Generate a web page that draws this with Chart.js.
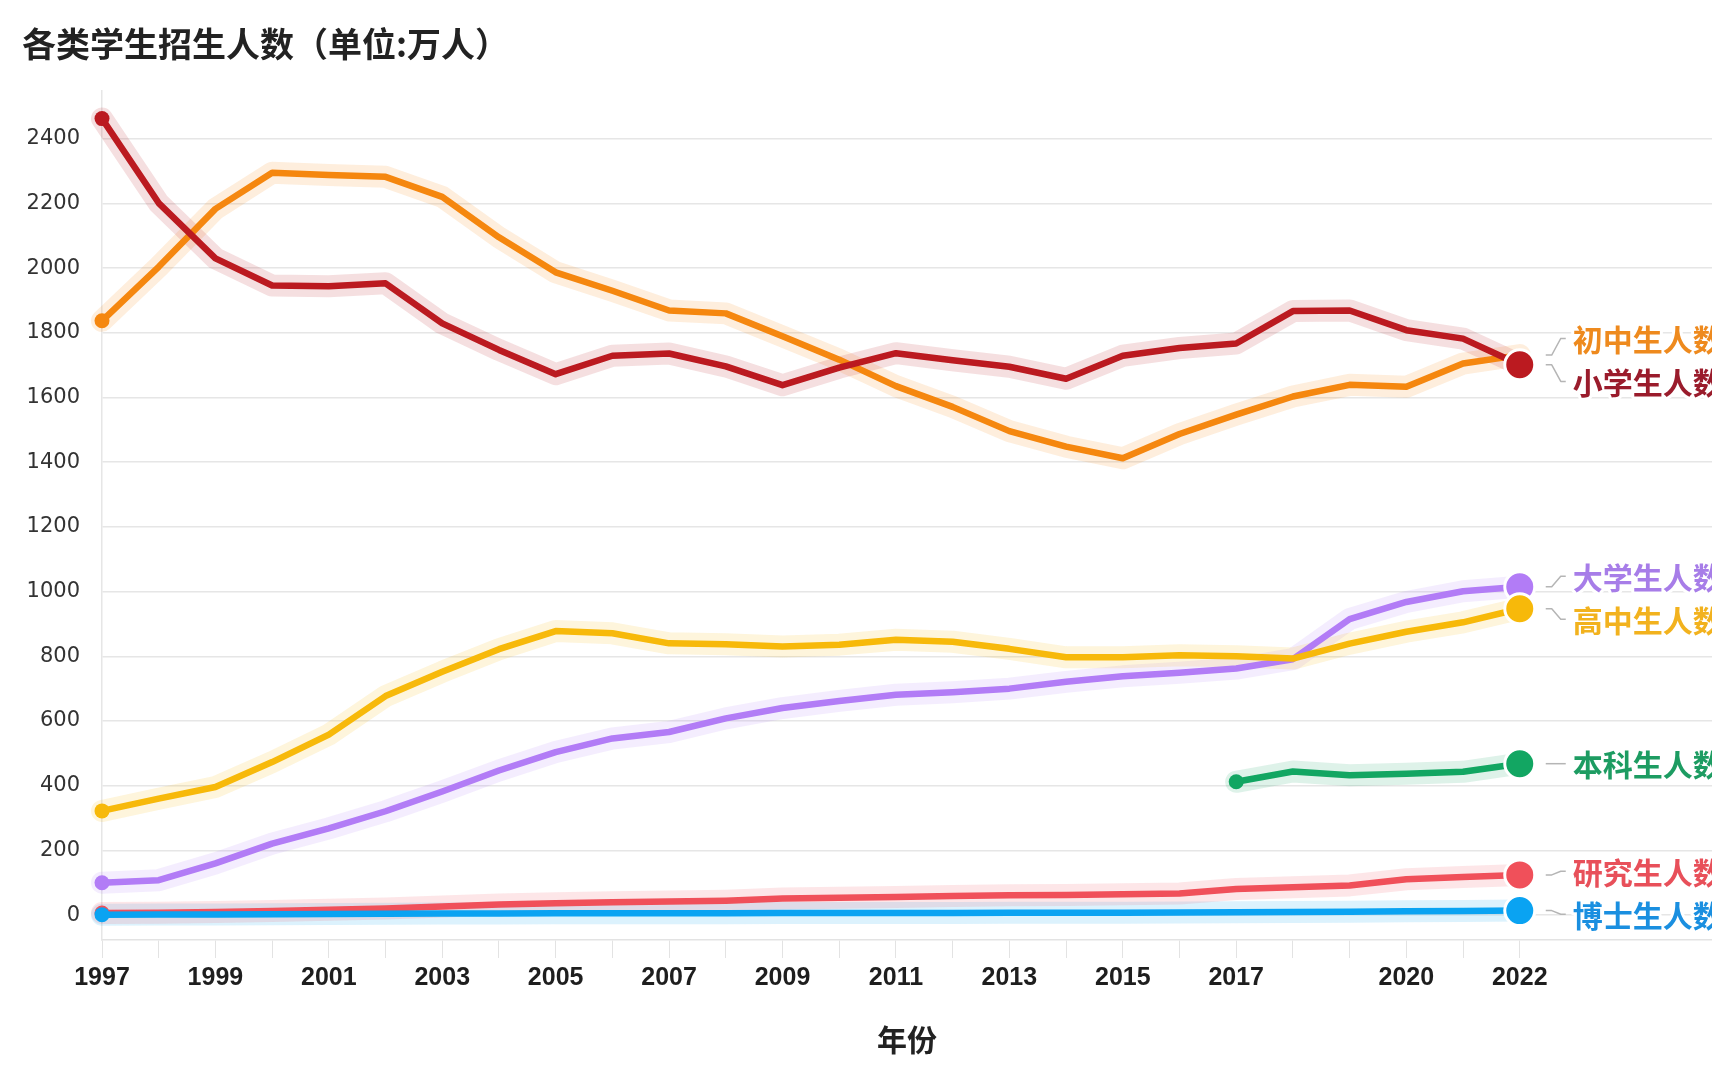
<!DOCTYPE html>
<html>
<head>
<meta charset="utf-8">
<script src="https://cdn.jsdelivr.net/npm/chart.js@4.4.1/dist/chart.umd.min.js"></script>
<style>
  html, body { margin: 0; padding: 0; background: #fff; }
  #wrap { width: 1712px; height: 1070px; position: relative; }
</style>
</head>
<body>
<div id="wrap"><canvas id="chart"></canvas></div>
<script>
// 各类学生招生人数 (单位:万人)
const years = [1997, 1998, 1999, 2000, 2001, 2002, 2003, 2004, 2005, 2006, 2007, 2008, 2009,
               2010, 2011, 2012, 2013, 2014, 2015, 2016, 2017, 2018, 2019, 2020, 2021, 2022];
const xLabelYears = [1997, 1999, 2001, 2003, 2005, 2007, 2009, 2011, 2013, 2015, 2017, 2020, 2022];
const yTicks = [0, 200, 400, 600, 800, 1000, 1200, 1400, 1600, 1800, 2000, 2200, 2400];

const primary  = [2462, 2201, 2030, 1946, 1944, 1953, 1829, 1747, 1672, 1729, 1736, 1696, 1638,
                  1692, 1737, 1715, 1695, 1658, 1729, 1753, 1767, 1867, 1869, 1808, 1782, 1701];
const junior   = [1837, 2004, 2183, 2295, 2288, 2282, 2220, 2095, 1987, 1930, 1869, 1860, 1789,
                  1717, 1635, 1571, 1496, 1448, 1412, 1487, 1547, 1603, 1639, 1633, 1705, 1731];
const senior   = [322, 360, 396, 473, 558, 677, 752, 822, 878, 871, 840, 837, 830,
                  836, 851, 845, 823, 797, 797, 803, 800, 793, 839, 876, 905, 947];
const college  = [100, 108, 160, 221, 268, 321, 382, 447, 504, 546, 566, 608, 640,
                  662, 681, 689, 700, 721, 738, 749, 762, 791, 915, 968, 1001, 1015];
const bachelor = [null, null, null, null, null, null, null, null, null, null, null, null, null,
                  null, null, null, null, null, null, null, 412, 444, 432, 437, 443, 468];
const master   = [6.4, 7.3, 9.2, 12.9, 16.5, 20.3, 26.9, 32.6, 36.5, 39.8, 41.9, 44.6, 51.1,
                  53.8, 56.0, 59.0, 61.1, 62.1, 64.5, 66.7, 80.6, 85.8, 91.7, 110.7, 117.7, 124.2];
const doctor   = [1.3, 1.5, 2.0, 2.5, 3.2, 3.8, 4.9, 5.3, 5.5, 5.6, 5.8, 6.0, 6.2,
                  6.4, 6.6, 6.8, 7.0, 7.3, 7.4, 7.7, 8.4, 9.5, 10.5, 11.6, 12.6, 13.9];

const series = [
  { name: '小学生人数', data: primary,  color: '#bb1a20', label: '#9a1c2c', endDot: true },
  { name: '初中生人数', data: junior,   color: '#f5870f', label: '#ee8a1e', endDot: false },
  { name: '高中生人数', data: senior,   color: '#f7b90a', label: '#f2b21e', endDot: true },
  { name: '大学生人数', data: college,  color: '#b27cf6', label: '#a77de8', endDot: true },
  { name: '本科生人数', data: bachelor, color: '#12a662', label: '#1d9c62', endDot: true },
  { name: '研究生人数', data: master,   color: '#f0505a', label: '#e8505a', endDot: true },
  { name: '博士生人数', data: doctor,   color: '#0aa3f2', label: '#1a8fe0', endDot: true }
];
// draw order: lower = on top
const drawOrder = [2, 3, 4, 5, 1, 7, 6];

function alpha(hex, a) {
  const n = parseInt(hex.slice(1), 16);
  return `rgba(${n >> 16},${(n >> 8) & 255},${n & 255},${a})`;
}
function toPoints(arr) {
  return arr.map((v, i) => ({ x: years[i], y: v }));
}

const datasets = [];
series.forEach((s, k) => {
  const first = s.data.findIndex(v => v !== null);
  const last = s.data.length - 1;
  datasets.push({
    label: s.name,
    data: toPoints(s.data),
    borderColor: s.color,
    backgroundColor: s.color,
    borderWidth: 6.5,
    borderJoinStyle: 'round',
    borderCapStyle: 'round',
    tension: 0,
    clip: false,
    order: drawOrder[k],
    pointRadius: ctx => ctx.dataIndex === first ? 7.5 : (ctx.dataIndex === last && s.endDot ? 15 : 0),
    pointBorderWidth: ctx => ctx.dataIndex === last ? 3 : 0,
    pointBorderColor: '#fff',
    pointBackgroundColor: s.color,
    isMain: true,
    seriesIndex: k
  });
  // soft halo behind the line
  datasets.push({
    label: s.name + ' halo',
    data: toPoints(s.data),
    borderColor: alpha(s.color, 0.14),
    borderWidth: 22,
    borderJoinStyle: 'round',
    borderCapStyle: 'round',
    tension: 0,
    clip: false,
    pointRadius: 0,
    order: 20
  });
});

const endLabels = {
  id: 'endLabels',
  afterDatasetsDraw(chart) {
    const ctx = chart.ctx;
    const items = [];
    chart.data.datasets.forEach((ds, i) => {
      if (!ds.isMain) return;
      const meta = chart.getDatasetMeta(i);
      const pt = meta.data[meta.data.length - 1];
      items.push({ s: series[ds.seriesIndex], px: pt.x, py: pt.y, ly: pt.y });
    });
    items.sort((a, b) => a.py - b.py);
    const gap = 43;
    for (let it = 0; it < 60; it++) {
      for (let i = 1; i < items.length; i++) {
        const d = gap - (items[i].ly - items[i - 1].ly);
        if (d > 0) { items[i - 1].ly -= d / 2; items[i].ly += d / 2; }
      }
    }
    ctx.save();
    ctx.font = 'bold 30px "Noto Sans CJK SC"';
    ctx.textBaseline = 'middle';
    const tx = items.length ? items[0].px + 53 : 0;
    items.forEach(o => {
      ctx.strokeStyle = '#b5b5b5';
      ctx.lineWidth = 1.5;
      ctx.beginPath();
      ctx.moveTo(o.px + 26, o.py);
      ctx.lineTo(o.px + 32, o.py);
      ctx.lineTo(tx - 12, o.ly);
      ctx.lineTo(tx - 7, o.ly);
      ctx.stroke();
      ctx.lineWidth = 6;
      ctx.strokeStyle = '#fff';
      ctx.lineJoin = 'round';
      ctx.strokeText(o.s.name, tx, o.ly + 1);
      ctx.fillStyle = o.s.label;
      ctx.fillText(o.s.name, tx, o.ly + 1);
    });
    ctx.restore();
  }
};

new Chart(document.getElementById('chart'), {
  type: 'line',
  data: { datasets },
  plugins: [endLabels],
  options: {
    responsive: true,
    maintainAspectRatio: false,
    animation: false,
    events: [],
    layout: { autoPadding: false, padding: { left: 22, right: 0, top: 24, bottom: 12 } },
    plugins: {
      legend: { display: false },
      tooltip: { enabled: false },
      title: {
        display: true,
        text: '各类学生招生人数（单位:万人）',
        align: 'start',
        color: '#222',
        font: { family: '"Noto Sans CJK SC"', size: 34, weight: 'bold' },
        padding: { top: 0, bottom: 26 }
      }
    },
    scales: {
      x: {
        type: 'linear',
        min: 1997,
        max: 2025.39,
        afterBuildTicks: scale => {
          scale.ticks = years.map(y => ({ value: y }));
        },
        ticks: {
          autoSkip: false,
          maxRotation: 0,
          padding: 5,
          color: '#1e1e1e',
          font: { family: '"Liberation Sans"', size: 25, weight: 'bold' },
          callback: v => xLabelYears.includes(v) ? String(v) : ''
        },
        grid: { drawOnChartArea: false, drawTicks: true, tickLength: 18, color: '#e3e3e3' },
        border: { display: true, color: '#e3e3e3', width: 1.5 },
        title: {
          display: true,
          text: '年份',
          color: '#222',
          font: { family: '"Noto Sans CJK SC"', size: 30, weight: 'bold' },
          padding: { top: 24, bottom: 0 }
        }
      },
      y: {
        min: -77,
        max: 2548,
        afterBuildTicks: scale => {
          scale.ticks = yTicks.map(v => ({ value: v }));
        },
        afterFit: scale => { scale.width = 80; },
        ticks: {
          padding: 22,
          color: '#333',
          font: { family: '"DejaVu Sans"', size: 21 },
          callback: v => String(v)
        },
        grid: { drawTicks: false, color: '#e6e6e6', lineWidth: 1.5 },
        border: { display: true, color: '#e6e6e6', width: 1.5 }
      }
    }
  }
});
</script>
</body>
</html>
